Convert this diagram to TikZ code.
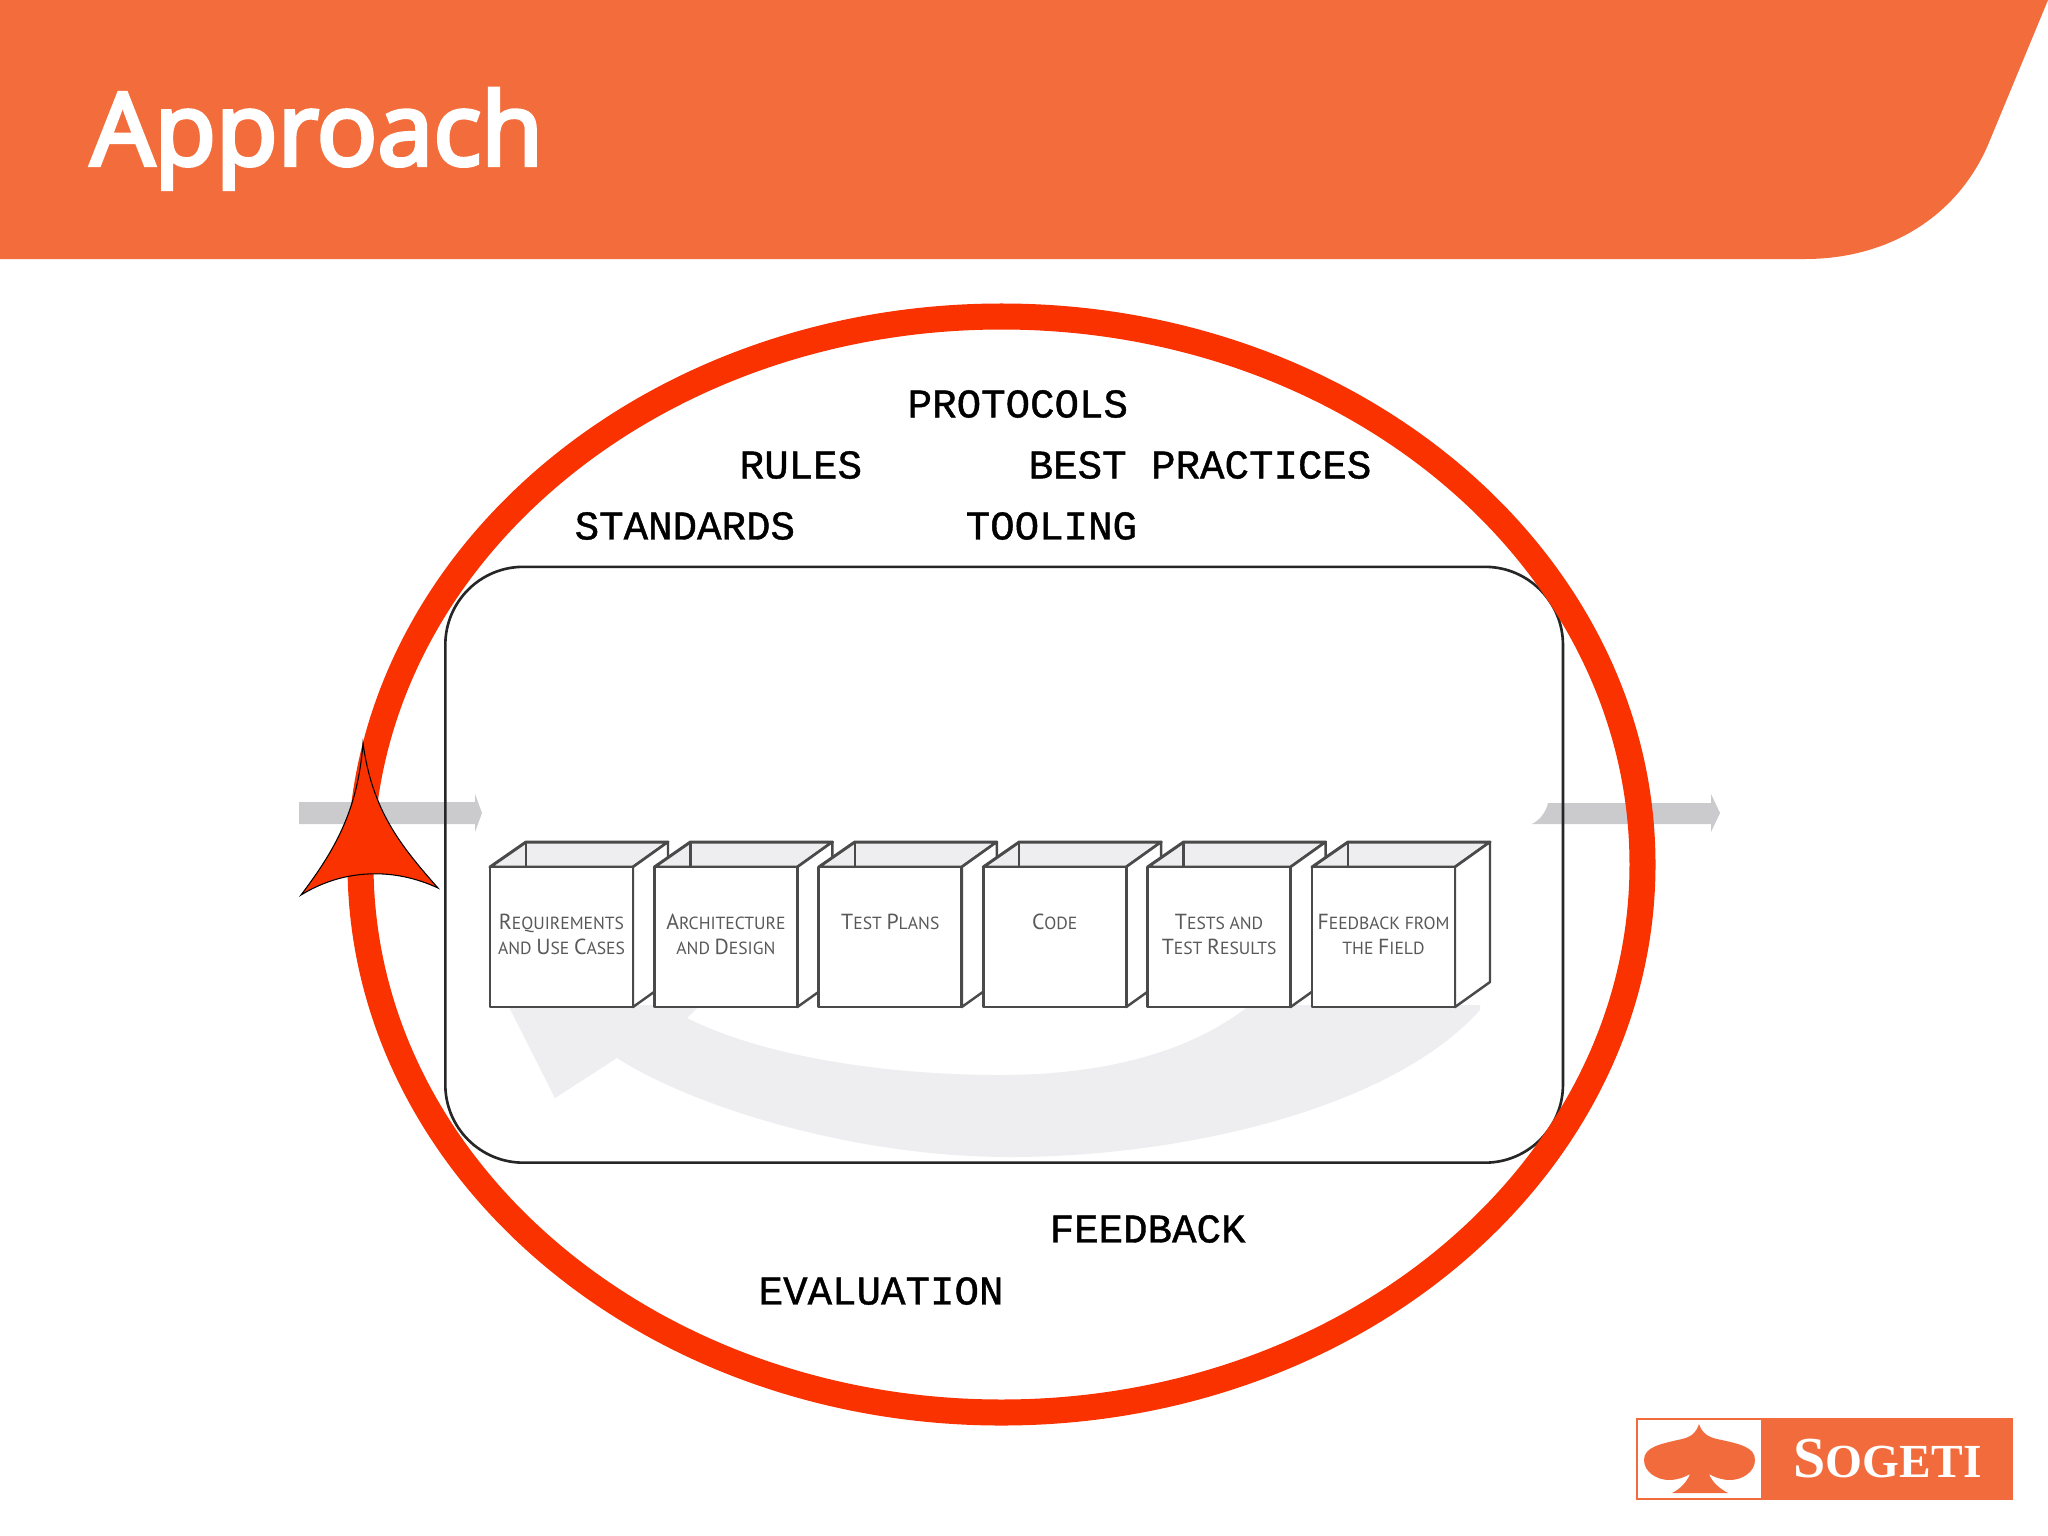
\documentclass[tikz,border=0pt]{standalone}
\usepackage{fontspec}
\setmainfont{Liberation Sans}
\newfontfamily\titlefont[FakeBold=4]{Open Sans}
\newfontfamily\labelfont[FakeBold=1.0]{Liberation Mono}
\newfontfamily\boxfont{PT Sans}
\newfontfamily\logofont{Liberation Serif}
\definecolor{bannerc}{HTML}{F26D3B}
\definecolor{ringc}{HTML}{F93200}
\definecolor{arrowc}{HTML}{CBCACD}
\definecolor{curvec}{HTML}{EEEDF0}
\definecolor{boxline}{HTML}{4A4A4A}
\definecolor{logoc}{HTML}{F26B3C}
\newcommand{\bx}[1]{{\fontsize{6.2pt}{7.1pt}\selectfont #1}}
\newcommand{\sx}[1]{{\fontsize{5pt}{7.1pt}\selectfont #1}}
\newcommand{\lgbig}[1]{{\fontsize{16.5pt}{18pt}\selectfont #1}}
\newcommand{\lgsmall}[1]{{\fontsize{13.5pt}{18pt}\selectfont #1}}
\tikzset{
  x=0.01cm,y=-0.01cm,
  toplabel/.style={anchor=west,inner sep=0,font=\labelfont\fontsize{11.6pt}{14pt}\selectfont,text=black},
  boxtext/.style={anchor=base,inner sep=0,align=center,text=black!65,font=\boxfont\fontsize{5pt}{7.1pt}\selectfont},
  frontface/.style={draw=boxline,line width=0.75pt,fill=white,line join=round},
  sideface/.style={draw=boxline,line width=0.7pt,fill=white,line join=round},
  topface/.style={draw=boxline,line width=0.85pt,fill=curvec,line join=round},
}
\newcommand{\crate}[3]{%
  \begin{scope}[shift={(#1,0)}]
    \path[topface] (0,867) -- (36,842) -- (178,842) -- (143,867) -- cycle;
    \draw[boxline,line width=0.7pt] (36,842) -- (36,867);
    \path[sideface] (143,867) -- (178,842) -- (178,982) -- (143,1007) -- cycle;
    \path[frontface] (0,867) rectangle (143,1007);
    \node[boxtext] at (71.5,#2) {#3};
  \end{scope}}
\begin{document}
\begin{tikzpicture}
\useasboundingbox (0,0) rectangle (2048,1536);
\fill[white] (0,0) rectangle (2048,1536);
% banner
\fill[bannerc] (0,0) -- (2048,0) -- (1990,140) .. controls (1960,215) and (1890,259) .. (1805,259) -- (0,259) -- cycle;
\node[anchor=base west,inner sep=0,text=white,font=\titlefont\fontsize{28.6pt}{34pt}\selectfont] (title) at (90,165) {Approach};
% grey flow arrows
\fill[arrowc] (299,802) -- (475,802) -- (475,794) -- (482,813) -- (475,832) -- (475,824) -- (299,824) -- cycle;
\fill[arrowc] (1532,824) .. controls (1540,820) and (1546,812) .. (1548,803) -- (1711,803) -- (1711,794) -- (1720,813) -- (1711,832) -- (1711,824) -- cycle;
% curved return arrow
\fill[curvec] (508,1005) -- (555,1098) -- (617,1058)
  .. controls (690,1105) and (850,1157) .. (1010,1157)
  .. controls (1180,1157) and (1390,1110) .. (1480,1010)
  -- (1480,1005) -- (1250,1005)
  .. controls (1200,1045) and (1120,1075) .. (1000,1075)
  .. controls (880,1075) and (760,1055) .. (687,1018)
  -- (700,1005) -- cycle;
% crates
\crate{490}{954}{\bx{R}\sx{EQUIREMENTS}\\\sx{AND }\bx{U}\sx{SE }\bx{C}\sx{ASES}}
\crate{654.4}{954}{\bx{A}\sx{RCHITECTURE}\\\sx{AND }\bx{D}\sx{ESIGN}}
\crate{818.8}{929}{\bx{T}\sx{EST }\bx{P}\sx{LANS}}
\crate{983.2}{929}{\bx{C}\sx{ODE}}
\crate{1147.6}{954}{\bx{T}\sx{ESTS AND}\\\bx{T}\sx{EST }\bx{R}\sx{ESULTS}}
\crate{1312}{954}{\bx{F}\sx{EEDBACK FROM}\\\sx{THE }\bx{F}\sx{IELD}}
% frame and ring
\node[draw=black!85,line width=0.75pt,rounded corners=0.78cm,minimum width=11.17cm,minimum height=5.955cm,inner sep=0,anchor=north west] (frame) at (444,565.5) {};
\draw[ringc,line width=7.4pt] (1001.5,864.5) ellipse [x radius=641,y radius=548];
\path[fill=ringc,draw=black,line width=0.3pt,line join=miter] (363,743)
  .. controls (372,810) and (400,845) .. (438,888)
  .. controls (395,868) and (345,868) .. (301,895)
  .. controls (335,850) and (358,810) .. (363,743) -- cycle;
% labels
\node[toplabel] (protocols) at (907,404) {PROTOCOLS};
\node[toplabel] (rules) at (739,465) {RULES};
\node[toplabel] (best) at (1028,465) {BEST PRACTICES};
\node[toplabel] (standards) at (574,526) {STANDARDS};
\node[toplabel] (tooling) at (965,526) {TOOLING};
\node[toplabel] (feedback) at (1049,1229) {FEEDBACK};
\node[toplabel] (evaluation) at (758,1291) {EVALUATION};
% logo
\fill[logoc] (1636,1418) rectangle (2013,1500);
\fill[white] (1638,1420) rectangle (1761,1498);
\fill[logoc] (1699,1424) .. controls (1702,1433) and (1708,1437) .. (1717,1439)
  .. controls (1740,1444) and (1755,1447) .. (1755,1460)
  .. controls (1755,1472) and (1742,1480) .. (1730,1480)
  .. controls (1722,1480) and (1714,1477) .. (1709,1474)
  .. controls (1712,1482) and (1720,1489) .. (1728,1493)
  -- (1672,1493)
  .. controls (1680,1489) and (1687,1482) .. (1690,1474)
  .. controls (1685,1477) and (1677,1480) .. (1669,1480)
  .. controls (1657,1480) and (1644,1472) .. (1644,1460)
  .. controls (1644,1447) and (1660,1444) .. (1682,1439)
  .. controls (1691,1437) and (1696,1433) .. (1699,1424) -- cycle;
\node[anchor=base west,inner sep=0,text=white,font=\logofont\bfseries] (logo) at (1793,1477) {\lgbig{S}\lgsmall{OGETI}};
\end{tikzpicture}
\end{document}
